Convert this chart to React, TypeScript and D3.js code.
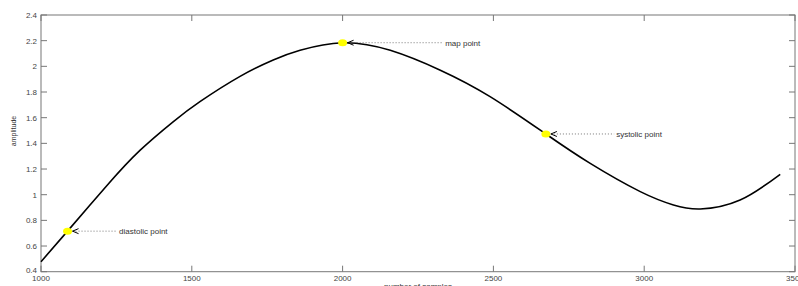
import React from "react";
import * as d3 from "d3";

// samples
const sampleX = [1000, 1088, 1218, 1328, 1439, 1527, 1660, 1770, 1859, 2000, 2158, 2324, 2489, 2674, 2821, 2987, 3097, 3186, 3318, 3451];
const amplitude = [0.478, 0.716, 1.07, 1.345, 1.57, 1.725, 1.922, 2.05, 2.125, 2.184, 2.125, 1.97, 1.764, 1.473, 1.244, 1.024, 0.92, 0.889, 0.959, 1.159];

const xTicks = [1000, 1500, 2000, 2500, 3000, 3500];
const yTicks = [0.4, 0.6, 0.8, 1, 1.2, 1.4, 1.6, 1.8, 2, 2.2, 2.4];

const markLabels = ["diastolic point", "map point", "systolic point"];
const markX = [1088, 2000, 2674];
const markY = [0.716, 2.184, 1.473];
const markTextX = [1259, 2340, 2907];

const W = 798;
const H = 286;
const margin = { top: 15, right: 3, bottom: 14.3, left: 41 };
const font = "'Liberation Sans', Arial, sans-serif";

export default function App() {
  const x = d3.scaleLinear().domain([1000, 3500]).range([margin.left, W - margin.right]);
  const y = d3.scaleLinear().domain([0.4, 2.4]).range([H - margin.bottom, margin.top]);
  const pts = sampleX.map((v, i) => [v, amplitude[i]] as [number, number]);
  const line = d3
    .line<[number, number]>()
    .x((d) => x(d[0]))
    .y((d) => y(d[1]))
    .curve(d3.curveNatural);

  const x0 = margin.left;
  const x1 = W - margin.right;
  const y0 = H - margin.bottom;
  const y1 = margin.top;
  const tl = 6;

  return (
    <div style={{ position: "absolute", left: 0, top: 0 }}>
      <svg width={W} height={H} style={{ display: "block", background: "#fff" }}>
        {/* axes box */}
        <rect x={x0} y={y1} width={x1 - x0} height={y0 - y1} fill="none" stroke="#777" strokeWidth={1} />
        {xTicks.map((t) => (
          <g key={"x" + t}>
            <line x1={x(t)} x2={x(t)} y1={y0} y2={y0 - tl} stroke="#777" />
            <line x1={x(t)} x2={x(t)} y1={y1} y2={y1 + tl} stroke="#777" />
            <text x={x(t)} y={280.5} fontSize={8} fill="#444" textAnchor="middle" fontFamily={font}>
              {t}
            </text>
          </g>
        ))}
        {yTicks.map((t) => (
          <g key={"y" + t}>
            <line x1={x0} x2={x0 + tl} y1={y(t)} y2={y(t)} stroke="#777" />
            <line x1={x1} x2={x1 - tl} y1={y(t)} y2={y(t)} stroke="#777" />
            <text x={37} y={y(t) + (t === 0.4 ? 1 : 3)} fontSize={8} fill="#444" textAnchor="end" fontFamily={font}>
              {t}
            </text>
          </g>
        ))}
        <text x={(x0 + x1) / 2} y={289} fontSize={8} fill="#333" textAnchor="middle" fontFamily={font}>
          number of samples
        </text>
        <text
          transform={`translate(${16},${131}) rotate(-90)`}
          fontSize={7}
          fill="#333"
          textAnchor="middle"
          fontFamily={font}
        >
          amplitude
        </text>

        <path d={line(pts) || ""} fill="none" stroke="#000" strokeWidth={1.6} />

        {markLabels.map((lab, i) => {
          const px = x(markX[i]);
          const py = y(markY[i]);
          const tip = px + 5;
          const tx = x(markTextX[i]);
          return (
            <g key={lab}>
              <ellipse cx={px} cy={py} rx={4.5} ry={3.5} fill="#ffff00" />
              <line x1={tip} x2={tx - 2} y1={py} y2={py} stroke="#555" strokeWidth={0.8} strokeDasharray="1,2" />
              <path
                d={`M${tip + 6},${py - 2.5}L${tip},${py}L${tip + 6},${py + 2.5}`}
                fill="none"
                stroke="#000"
                strokeWidth={1}
              />
              <text x={tx} y={py + 3} fontSize={8} fill="#333" fontFamily={font}>
                {lab}
              </text>
            </g>
          );
        })}
      </svg>
    </div>
  );
}
